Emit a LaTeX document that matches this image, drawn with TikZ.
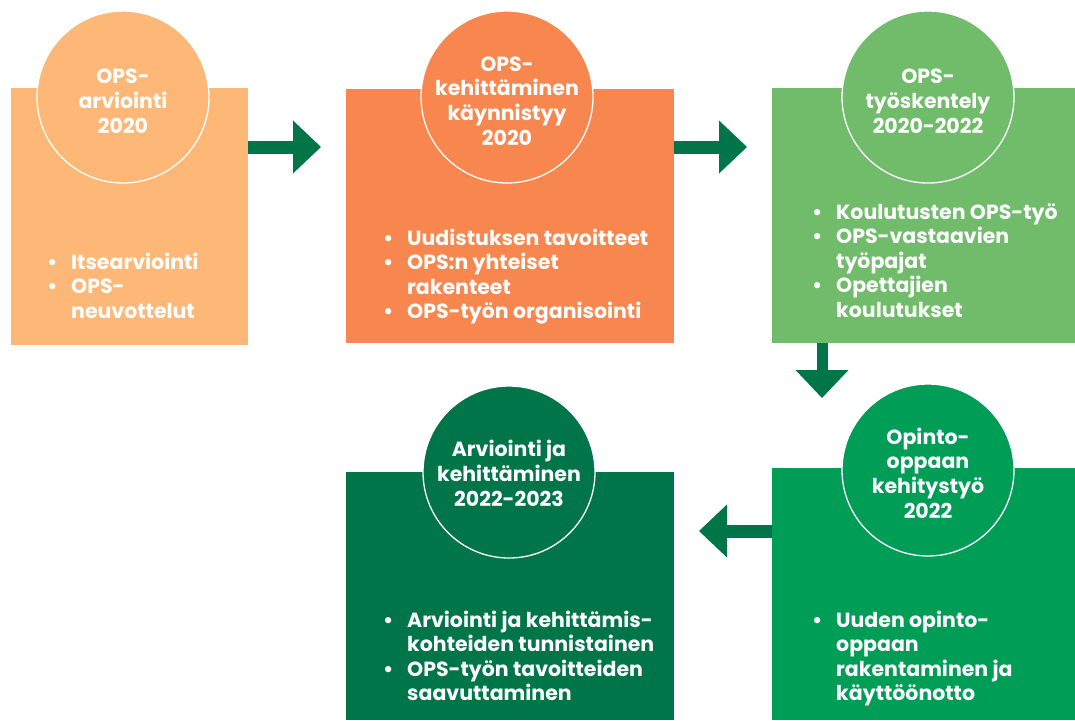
\documentclass[tikz,border=0pt]{standalone}
\usepackage{fontspec}
\setmainfont{Poppins}
\usetikzlibrary{arrows.meta,calc}
\definecolor{cA}{HTML}{FDB878}
\definecolor{cB}{HTML}{F7874F}
\definecolor{cC}{HTML}{70BC6B}
\definecolor{cD}{HTML}{00754A}
\definecolor{cE}{HTML}{009D57}
\definecolor{arr}{HTML}{00754A}
\newcommand\bl{\makebox[24pt][l]{\textbullet}}
\tikzset{
  box/.style={rectangle, inner sep=0pt, outer sep=0pt, anchor=north west},
  ring/.style={circle, draw=white, line width=1.3pt, minimum size=172pt, inner sep=0pt},
  ttl/.style={text=white, font=\bfseries\fontsize{20.5}{24.6}\selectfont, align=center, anchor=base, inner sep=0pt},
  lst/.style={text=white, font=\bfseries\fontsize{20.5}{24.6}\selectfont, anchor=base west, inner sep=0pt},
  conn/.style={line width=13pt, draw=arr, -{Triangle[length=28pt,width=53pt,line width=0pt]}},
}
\begin{document}
\begin{tikzpicture}[x=1pt,y=-1pt]
\useasboundingbox (0,0) rectangle (1075,720);
% boxes
\node[box, fill=cA, minimum width=237pt, minimum height=257pt] (b1) at (11,88) {};
\node[box, fill=cB, minimum width=328pt, minimum height=254pt] (b2) at (346,89) {};
\node[box, fill=cC, minimum width=303pt, minimum height=255pt] (b3) at (772,88) {};
\node[box, fill=cD, minimum width=328pt, minimum height=248pt] (b4) at (346,472) {};
\node[box, fill=cE, minimum width=303pt, minimum height=252pt] (b5) at (772,468) {};
% circles
\node[ring, fill=cA] (c1) at (123,97) {};
\node[ring, fill=cB] (c2) at (507,97) {};
\node[ring, fill=cC] (c3) at (928,97) {};
\node[ring, fill=cD] (c4) at (509,472) {};
\node[ring, fill=cE] (c5) at (928,470) {};
% titles (anchored at the baseline of the last line)
\node[ttl] (t1) at (123,133) {OPS-\\arviointi\\2020};
\node[ttl] (t2) at (507,145) {OPS-\\kehittäminen\\käynnistyy\\2020};
\node[ttl] (t3) at (928,133) {OPS-\\työskentely\\2020-2022};
\node[ttl] (t4) at (509,506) {Arviointi ja\\kehittäminen\\2022-2023};
\node[ttl] (t5) at (928,518) {Opinto-\\oppaan\\kehitystyö\\2022};
% lists
\node[lst] (l1) at (47,269) {\begin{tabular}[t]{@{}l@{}l@{}}\bl&Itsearviointi\\\bl&OPS-\\&neuvottelut\end{tabular}};
\node[lst] (l2) at (383,245) {\begin{tabular}[t]{@{}l@{}l@{}}\bl&Uudistuksen tavoitteet\\\bl&OPS:n yhteiset\\&rakenteet\\\bl&OPS-työn organisointi\end{tabular}};
\node[lst] (l3) at (812,219) {\begin{tabular}[t]{@{}l@{}l@{}}\bl&Koulutusten OPS-työ\\\bl&OPS-vastaavien\\&työpajat\\\bl&Opettajien\\&koulutukset\end{tabular}};
\node[lst] (l4) at (383,627) {\begin{tabular}[t]{@{}l@{}l@{}}\bl&Arviointi ja kehittämis-\\&kohteiden tunnistainen\\\bl&OPS-työn tavoitteiden\\&saavuttaminen\end{tabular}};
\node[lst] (l5) at (812,627) {\begin{tabular}[t]{@{}l@{}l@{}}\bl&Uuden opinto-\\&oppaan\\&rakentaminen ja\\&käyttöönotto\end{tabular}};
% connectors
\draw[conn] ($(b1.north east)+(0,59)$) -- ($(b2.north west)+(-25,58)$);
\draw[conn] ($(b2.north east)+(0,58)$) -- ($(b3.north west)+(-25,59)$);
\draw[conn, line width=11pt] ($(b3.south west)+(50,0)$) -- ($(b3.south west)+(50,55)$);
\draw[conn] ($(b5.north west)+(0,63)$) -- ($(b4.north east)+(25,59)$);
\end{tikzpicture}
\end{document}
